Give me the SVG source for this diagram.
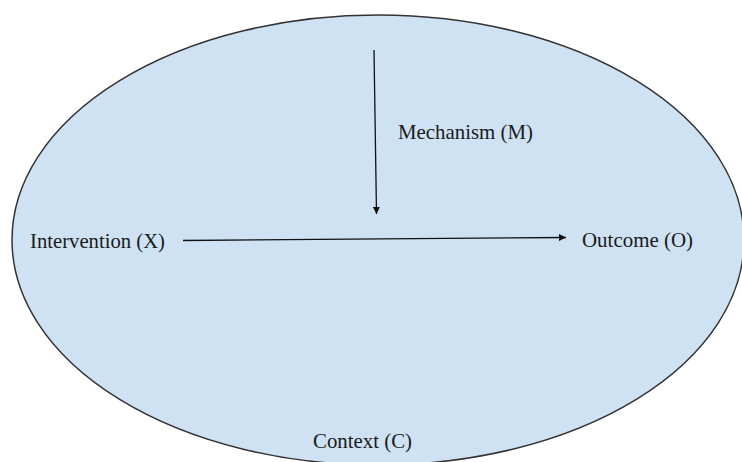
<svg xmlns="http://www.w3.org/2000/svg" width="742" height="462" viewBox="0 0 742 462">
<style>
.lbl{font-size:22px;fill:#1a1a1a}
.edge{stroke:#111;stroke-width:1.3;fill:none}
</style>
<defs>
<marker id="ah" viewBox="0 0 10 10" refX="10" refY="5" markerWidth="7" markerHeight="7" markerUnits="userSpaceOnUse" orient="auto">
<path d="M0,0 L10,5 L0,10 z" fill="#111"/>
</marker>
</defs>
<rect width="742" height="462" fill="#fff"/>
<g id="context">
<ellipse cx="378" cy="240" rx="366" ry="225" fill="#cfe2f3" stroke="#333" stroke-width="1.5"/>
<text class="lbl" font-family="Liberation Serif, serif" x="313" y="448" textLength="99" lengthAdjust="spacingAndGlyphs">Context (C)</text>
</g>
<g id="intervention">
<text class="lbl" font-family="Liberation Serif, serif" x="30" y="248" textLength="135" lengthAdjust="spacingAndGlyphs">Intervention (X)</text>
</g>
<g id="outcome">
<text class="lbl" font-family="Liberation Serif, serif" x="582" y="247" textLength="111" lengthAdjust="spacingAndGlyphs">Outcome (O)</text>
</g>
<g id="mechanism">
<text class="lbl" font-family="Liberation Serif, serif" x="398" y="139" textLength="135" lengthAdjust="spacingAndGlyphs">Mechanism (M)</text>
</g>
<g id="connectors">
<line class="edge" x1="183" y1="240.5" x2="566" y2="237.5" marker-end="url(#ah)"/>
<line class="edge" x1="374" y1="50" x2="376.5" y2="214" marker-end="url(#ah)"/>
</g>
</svg>
